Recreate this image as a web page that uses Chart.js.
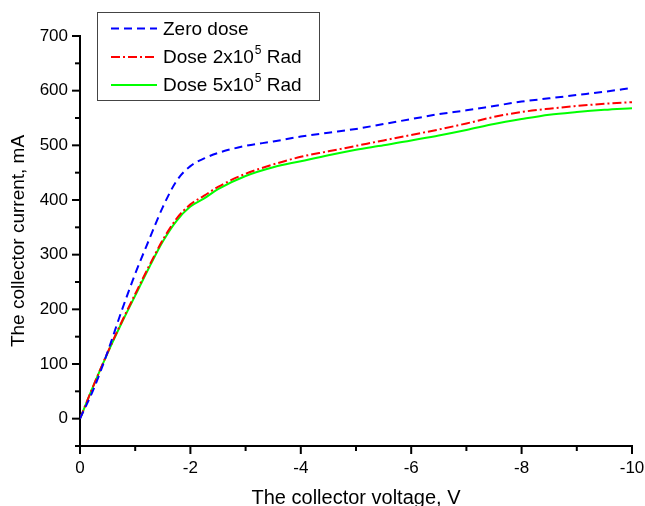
<!DOCTYPE html>
<html>
<head>
<meta charset="utf-8">
<script src="https://cdn.jsdelivr.net/npm/chart.js@4"></script>
<style>
  html, body { margin: 0; padding: 0; background: #fff; }
  #wrap { width: 645px; height: 506px; position: relative; }
</style>
</head>
<body>
<div id="wrap"><canvas id="c" width="645" height="506"></canvas></div>
<script>
const voltage = [0, -0.25, -0.5, -0.75, -1.0, -1.25, -1.5, -1.75, -2.0, -2.25, -2.5, -3.0, -3.5, -4.0, -4.5, -5.0, -5.5, -6.0, -6.5, -7.0, -7.5, -8.0, -8.5, -9.0, -9.5, -10.0];
const zeroDose = [0, 55, 122, 196, 265, 327, 387, 435, 462, 476, 486, 499, 507, 516, 523, 530, 539, 548, 557, 564, 572, 580, 586, 592, 598, 605];
const dose2 = [0, 62, 121, 176, 228, 279, 327, 366, 392, 408, 424, 448, 465, 479, 489, 499, 509, 519, 529, 540, 552, 561, 567, 572, 576, 579];
const dose5 = [0, 62, 120, 174, 225, 276, 324, 362, 388, 403, 420, 444, 460, 471, 482, 492, 500, 509, 518, 528, 539, 548, 556, 561, 565, 568];
const seriesLabels = [["Zero dose", "", ""], ["Dose 2x10", "5", " Rad"], ["Dose 5x10", "5", " Rad"]];
const xTickLabels = [0, -2, -4, -6, -8, -10];
const yTickLabels = [0, 100, 200, 300, 400, 500, 600, 700];

const toPts = (ys) => voltage.map((v, i) => ({ x: v, y: ys[i] }));

const FONT = "'Liberation Sans', Arial, sans-serif";

const tickPlugin = {
  id: 'ticksAndLegend',
  afterDraw(chart) {
    const ctx = chart.ctx;
    const xs = chart.scales.x, ys = chart.scales.y;
    const ca = chart.chartArea;
    ctx.save();
    ctx.strokeStyle = '#000';
    ctx.lineWidth = 2;
    for (let v = 0; v >= -10; v -= 1) {
      const px = xs.getPixelForValue(v);
      const major = xTickLabels.includes(v);
      ctx.beginPath();
      ctx.moveTo(px, ca.bottom);
      ctx.lineTo(px, ca.bottom + (major ? 8 : 5));
      ctx.stroke();
    }
    for (let v = -50; v <= 700; v += 50) {
      const py = ys.getPixelForValue(v);
      const major = yTickLabels.includes(v);
      ctx.beginPath();
      ctx.moveTo(ca.left, py);
      ctx.lineTo(ca.left - (major ? 8 : 5), py);
      ctx.stroke();
    }
    const bx = 97, by = 12, bw = 222, bh = 88;
    ctx.fillStyle = '#fff';
    ctx.fillRect(bx, by, bw, bh);
    ctx.strokeStyle = '#444';
    ctx.lineWidth = 1;
    ctx.strokeRect(bx + 0.5, by + 0.5, bw, bh);
    const rows = [28.5, 57, 85];
    chart.data.datasets.forEach((ds, i) => {
      const y = rows[i];
      ctx.save();
      ctx.strokeStyle = ds.borderColor;
      ctx.lineWidth = 2;
      ctx.setLineDash(ds.borderDash || []);
      ctx.beginPath();
      ctx.moveTo(111, y);
      ctx.lineTo(157, y);
      ctx.stroke();
      ctx.restore();
      const parts = seriesLabels[i];
      ctx.fillStyle = '#000';
      ctx.textBaseline = 'middle';
      ctx.textAlign = 'left';
      ctx.font = '19px ' + FONT;
      let x = 163;
      ctx.fillText(parts[0], x, y + 1);
      x += ctx.measureText(parts[0]).width;
      if (parts[1]) {
        ctx.font = '12px ' + FONT;
        ctx.fillText(parts[1], x + 1, y - 6);
        x += ctx.measureText(parts[1]).width + 1;
        ctx.font = '19px ' + FONT;
        ctx.fillText(parts[2], x, y + 1);
      }
    });
    ctx.restore();
  }
};

new Chart(document.getElementById('c'), {
  type: 'line',
  data: {
    datasets: [
      { label: seriesLabels[0].join(''), data: toPts(zeroDose), borderColor: '#0000ff', borderWidth: 2, borderDash: [8, 5], pointRadius: 0, fill: false, tension: 0.3, cubicInterpolationMode: 'monotone' },
      { label: seriesLabels[1].join(''), data: toPts(dose2), borderColor: '#ff0000', borderWidth: 2, borderDash: [9, 3, 2, 3], pointRadius: 0, fill: false, tension: 0.3, cubicInterpolationMode: 'monotone' },
      { label: seriesLabels[2].join(''), data: toPts(dose5), borderColor: '#00ff00', borderWidth: 2, pointRadius: 0, fill: false, tension: 0.3, cubicInterpolationMode: 'monotone' }
    ]
  },
  options: {
    responsive: false,
    animation: false,
    devicePixelRatio: 1,
    layout: { padding: { top: 36, right: 0, left: 0, bottom: 0 } },
    plugins: { legend: { display: false }, tooltip: { enabled: false } },
    scales: {
      x: {
        type: 'linear',
        min: -10, max: 0,
        reverse: true,
        afterFit(s) { s.height = 60; s.paddingRight = 13; s.paddingLeft = 0; },
        afterBuildTicks(s) { s.ticks = xTickLabels.map(v => ({ value: v })); },
        grid: { display: true, drawOnChartArea: false, drawTicks: false },
        border: { display: true, color: '#000', width: 2 },
        ticks: { color: '#000', font: { family: FONT, size: 17 }, padding: 12, maxRotation: 0, callback: (v) => String(v) },
        title: { display: true, text: 'The collector voltage, V', color: '#000', font: { family: FONT, size: 20 }, padding: { top: 0, bottom: -4 } }
      },
      y: {
        type: 'linear',
        min: -50, max: 700,
        afterFit(s) { s.width = 80; },
        afterBuildTicks(s) { s.ticks = yTickLabels.map(v => ({ value: v })); },
        grid: { display: true, drawOnChartArea: false, drawTicks: false },
        border: { display: true, color: '#000', width: 2 },
        ticks: { color: '#000', font: { family: FONT, size: 17 }, padding: 12, callback: (v) => String(v) },
        title: { display: true, text: 'The collector current, mA', color: '#000', font: { family: FONT, size: 19 }, padding: { top: 7, bottom: 0 } }
      }
    }
  },
  plugins: [tickPlugin]
});
</script>
</body>
</html>
